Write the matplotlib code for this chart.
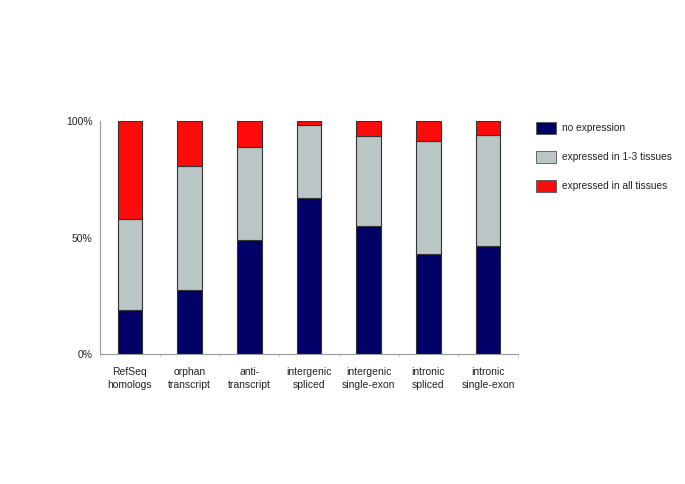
import matplotlib
matplotlib.use("Agg")
import matplotlib.pyplot as plt
from matplotlib.patches import Patch
import numpy as np

plt.rcParams['font.family'] = ['Liberation Sans', 'DejaVu Sans']

categories = ["RefSeq\nhomologs", "orphan\ntranscript", "anti-\ntranscript", "intergenic\nspliced",
              "intergenic\nsingle-exon", "intronic\nspliced", "intronic\nsingle-exon"]
no_expr = [19.2, 27.5, 49.2, 67.2, 54.9, 42.8, 46.4]
expr_1_3 = [39.0, 53.2, 39.8, 31.2, 38.7, 48.7, 47.5]
expr_all = [41.8, 19.3, 11.0, 1.6, 6.4, 8.5, 6.1]
series_labels = ["no expression", "expressed in 1-3 tissues", "expressed in all tissues"]
colors = ["#000066", "#BAC5C6", "#FF0A0A"]
yticks = [0, 50, 100]
ytick_labels = ["0%", "50%", "100%"]

text_color = "#222222"

fig = plt.figure(figsize=(6.85, 4.84), dpi=100)
ax = fig.add_axes([100/685, 1-354.3/484, 418/685, (354.3-121)/484])

x = np.arange(len(categories))
bottom = np.zeros(len(categories))
handles = []
for vals, c, lab in zip([no_expr, expr_1_3, expr_all], colors, series_labels):
    ax.bar(x, vals, width=0.41, bottom=bottom, color=c, edgecolor="#333333", linewidth=0.8, label=lab)
    bottom = bottom + np.array(vals)
    handles.append(Patch(facecolor=c, edgecolor="#555555", linewidth=0.6, label=lab))

ax.set_xlim(-0.5, len(categories) - 0.5)
ax.set_ylim(0, 100)
ax.set_yticks(yticks)
ax.set_yticklabels(ytick_labels, fontsize=7.5, color=text_color)
ax.set_xticks(x)
ax.set_xticklabels(categories, fontsize=7.5, linespacing=1.4, color=text_color)
ax.set_xticks(np.arange(-0.5, len(categories), 1), minor=True)
ax.tick_params(axis='x', which='major', length=0, pad=9)
ax.tick_params(axis='x', which='minor', length=2, color="#cccccc")
ax.tick_params(axis='y', length=0, pad=5.5)
for s in ['top', 'right']:
    ax.spines[s].set_visible(False)
for s in ['left', 'bottom']:
    ax.spines[s].set_color("#999999")
    ax.spines[s].set_linewidth(0.8)

fig.legend(handles=handles, loc='upper left', bbox_to_anchor=(527/685, 1-113/484),
           frameon=False, fontsize=7.3, handlelength=2.0, handleheight=1.35,
           labelspacing=1.75, handletextpad=0.55, labelcolor=text_color)

fig.savefig("out.png", dpi=100)
